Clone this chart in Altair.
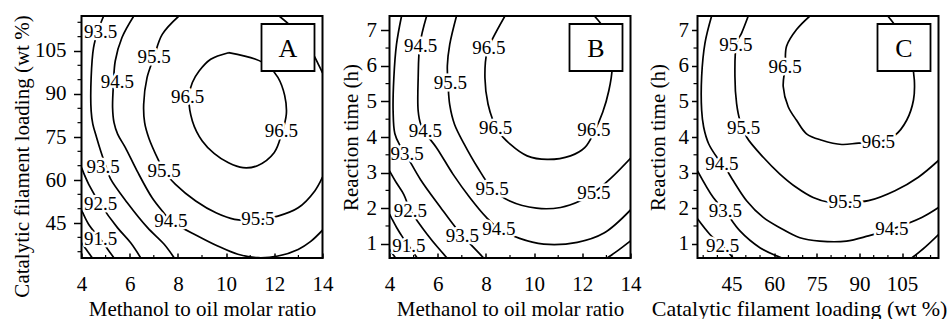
import altair as alt
import pandas as pd

FONT = "Liberation Serif"

# ---------------- Panel A : methanol/oil ratio vs catalytic filament loading -------------
A_905 = [(4.0, 38.1), (4.45, 32.8)]
A_915 = [(4.0, 49.6), (4.3, 44.5), (4.79, 39.3), (5.05, 36.3), (5.35, 32.8)]
A_925 = [(4.0, 64.3), (4.3, 58.5), (4.79, 51.5), (5.49, 43.4), (6.04, 38.1), (6.46, 32.8)]
A_935 = [(4.92, 117.2), (4.68, 112.0), (4.5, 106.2), (4.4, 95.7), (4.4, 84.1), (4.47, 79.5),
         (4.62, 75.0), (4.8, 70.0), (5.0, 65.0), (5.2, 60.5), (5.9, 52.1), (6.74, 43.4),
         (7.43, 37.6), (7.85, 32.8)]
A_945 = [(6.17, 117.2), (5.68, 109.7), (5.40, 101.5), (5.33, 94.0), (5.29, 85.2), (5.35, 80.0),
         (5.5, 76.0), (5.82, 71.3), (6.31, 63.1), (6.93, 53.8), (7.42, 48.5), (7.71, 45.7),
         (8.82, 40.5), (9.65, 37.0), (10.49, 34.1), (11.32, 32.9), (12.15, 33.5), (12.99, 35.8),
         (13.5, 38.5), (14.0, 42.5)]
A_955 = [(8.04, 117.2), (7.35, 110.8), (7.0, 102.7), (6.72, 95.7), (6.58, 86.4), (6.62, 80.0),
         (6.8, 74.5), (7.21, 66.6), (7.42, 63.1), (7.9, 58.5), (8.74, 52.7), (9.6, 48.5),
         (10.35, 46.3), (11.32, 46.1), (12.15, 47.4), (12.99, 50.3), (13.68, 56.2), (14.0, 61.0)]
A_955b = [(12.2, 117.2), (12.9, 112.0), (13.5, 105.5), (13.85, 100.0), (14.0, 97.4)]
A_965 = [(10.1, 104.4), (11.2, 102.2), (11.75, 99.8), (12.15, 95.8), (12.43, 89.5), (12.5, 83.0),
         (12.3, 76.0), (12.0, 69.6), (11.3, 65.0), (10.7, 64.3), (10.1, 66.0), (9.5, 69.3),
         (9.01, 73.6), (8.6, 80.6), (8.46, 89.3), (8.6, 94.0), (8.88, 98.0), (9.36, 102.1),
         (10.1, 104.4)]
A_lab_x = [4.79, 5.49, 7.01, 8.40, 12.29, 4.9, 7.43, 4.79, 7.71, 11.32, 4.79]
A_lab_y = [111.5, 94.1, 102.8, 88.8, 77.2, 64.5, 63.3, 51.5, 45.7, 46.4, 39.3]
A_lab_t = ["93.5", "94.5", "95.5", "96.5", "96.5", "93.5", "95.5", "92.5", "94.5", "95.5", "91.5"]
A_xticks = [4, 6, 8, 10, 12, 14]
A_xminor = [5, 7, 9, 11, 13]
A_yticks = [45, 60, 75, 90, 105]
A_yminor = [35, 40, 50, 55, 65, 70, 80, 85, 95, 100, 110, 115]

# ---------------- Panel B : methanol/oil ratio vs reaction time -------------
B_905 = [(4.0, 0.85), (4.25, 0.6)]
B_915 = [(4.0, 1.83), (4.3, 1.45), (4.55, 1.18), (4.8, 0.94), (5.15, 0.6)]
B_925 = [(4.0, 3.05), (4.3, 2.7), (4.59, 2.39), (4.87, 1.93), (5.2, 1.6), (5.56, 1.27), (6.0, 0.9), (6.39, 0.6)]
B_935 = [(4.5, 7.4), (4.29, 6.6), (4.18, 5.66), (4.15, 4.73), (4.22, 4.1), (4.42, 3.78), (4.73, 3.45),
         (5.29, 2.8), (6.12, 2.02), (6.81, 1.4), (7.3, 1.03), (7.91, 0.6)]
B_935b = [(13.03, 0.6), (13.5, 0.82), (14.0, 1.08)]
B_945 = [(5.54, 7.4), (5.26, 6.6), (5.19, 5.66), (5.19, 4.73), (5.3, 4.35), (5.5, 4.1), (5.95, 3.7),
         (6.64, 2.95), (7.33, 2.30), (8.02, 1.74), (8.51, 1.44), (9.4, 1.15), (10.4, 0.99),
         (11.79, 1.04), (12.9, 1.3), (14.0, 1.95)]
B_955 = [(6.78, 7.4), (6.5, 6.6), (6.4, 6.0), (6.43, 5.48), (6.5, 4.9), (6.7, 4.35), (7.1, 3.8),
         (7.65, 3.15), (8.26, 2.55), (8.99, 2.2), (10.1, 2.0), (11.1, 2.02), (11.9, 2.2),
         (12.48, 2.44), (13.2, 2.85), (14.0, 3.4)]
B_965 = [(8.79, 7.4), (8.30, 6.79), (8.05, 6.4), (7.96, 5.66), (8.09, 4.92), (8.30, 4.45), (8.45, 4.22),
         (9.02, 3.79), (9.71, 3.47), (10.54, 3.37), (11.51, 3.47), (12.1, 3.7), (12.5, 4.15),
         (12.85, 4.7), (13.1, 5.3), (13.24, 5.94), (13.15, 6.6), (12.85, 7.1), (12.5, 7.4)]
B_lab_x = [5.29, 8.12, 6.53, 5.49, 8.40, 12.48, 4.73, 8.26, 12.48, 4.87, 8.54, 7.02, 4.80]
B_lab_y = [6.55, 6.50, 5.52, 4.17, 4.26, 4.21, 3.51, 2.53, 2.44, 1.93, 1.41, 1.22, 0.94]
B_lab_t = ["94.5", "96.5", "95.5", "94.5", "96.5", "96.5", "93.5", "95.5", "95.5", "92.5", "94.5", "93.5", "91.5"]
B_xticks = [4, 6, 8, 10, 12, 14]
B_xminor = [5, 7, 9, 11, 13]
B_yticks = [1, 2, 3, 4, 5, 6, 7]
B_yminor = [1.5, 2.5, 3.5, 4.5, 5.5, 6.5]

# ---------------- Panel C : catalytic filament loading vs reaction time -------------
C_925 = [(33.0, 1.7), (37.38, 1.26), (41.84, 0.93), (45.59, 0.6)]
C_935 = [(33.0, 3.05), (38.56, 2.30), (42.66, 1.92), (47.93, 1.36), (54.96, 0.89), (62.69, 0.6)]
C_935b = [(108.4, 0.6), (113.0, 0.9), (117.8, 1.26)]
C_945 = [(37.97, 7.4), (35.63, 6.64), (34.46, 5.70), (34.46, 4.75), (35.16, 4.28), (36.92, 3.81),
         (39.84, 3.43), (42.66, 3.15), (45.59, 2.77), (50.27, 2.21), (56.13, 1.74), (61.99, 1.45),
         (69.02, 1.17), (76.05, 1.075), (85.42, 1.075), (93.15, 1.22), (101.36, 1.41),
         (111.9, 1.74), (117.8, 2.02)]
C_955 = [(50.86, 7.4), (48.51, 6.92), (46.76, 6.64), (46.17, 5.70), (46.76, 4.94), (47.93, 4.47),
         (49.22, 4.24), (50.27, 4.0), (56.13, 3.43), (61.99, 2.96), (67.85, 2.58), (73.7, 2.30),
         (79.56, 2.16), (84.95, 2.16), (93.15, 2.21), (102.5, 2.49), (110.7, 2.87), (117.8, 3.34)]
C_965 = [(72.53, 7.4), (67.85, 7.02), (64.33, 6.55), (63.86, 5.98), (63.16, 5.42), (64.92, 4.85),
         (67.85, 4.47), (71.36, 4.09), (76.75, 3.91), (83.78, 3.79), (89.64, 3.83), (96.67, 3.86),
         (102.5, 4.05), (106.6, 4.47), (109.0, 5.04), (109.3, 5.60), (108.4, 6.08), (106.0, 6.64),
         (103.1, 7.07), (99.95, 7.4)]
C_lab_x = [46.52, 63.86, 49.22, 96.67, 41.6, 84.95, 42.77, 101.36, 41.84]
C_lab_y = [6.59, 5.98, 4.24, 3.86, 3.25, 2.16, 1.92, 1.41, 0.93]
C_lab_t = ["95.5", "96.5", "95.5", "96.5", "94.5", "95.5", "93.5", "94.5", "92.5"]
C_xticks = [45, 60, 75, 90, 105]
C_xminor = [35, 40, 50, 55, 65, 70, 80, 85, 95, 100, 110, 115]
C_yticks = [1, 2, 3, 4, 5, 6, 7]
C_yminor = [1.5, 2.5, 3.5, 4.5, 5.5, 6.5]

W, H = 241, 242
ONE = pd.DataFrame({"a": [0]})


def lines_df(named):
    rows = []
    for seg, pts in named:
        for i, (x, y) in enumerate(pts):
            rows.append({"seg": seg, "i": i, "x": x, "y": y})
    return pd.DataFrame(rows)


def panel(named, lab_x, lab_y, lab_t, xdom, ydom, xticks, xminor, yticks, yminor,
          xtitle, ytitle, letter, ytitle_x, ytitle_y, ytick, ypad, xtitle_x=None, xtitle_size=21):
    xs = alt.Scale(domain=xdom, nice=False, zero=False)
    ys = alt.Scale(domain=ydom, nice=False, zero=False)
    xkw = dict(values=xticks, title=xtitle, offset=-5, tickSize=5, labelPadding=32.5,
               labelBaseline="alphabetic", titleBaseline="alphabetic", titleY=62,
               domain=False, grid=False, labelFlush=False, labelOverlap=False,
               titleFontSize=xtitle_size)
    if xtitle_x is not None:
        xkw["titleX"] = xtitle_x
    xaxis = alt.Axis(**xkw)
    yaxis = alt.Axis(values=yticks, title=ytitle, tickSize=ytick, labelPadding=ypad,
                     titleX=ytitle_x, titleY=ytitle_y, titleBaseline="alphabetic",
                     domain=False, grid=False, labelFlush=False, labelOverlap=False)
    X = lambda f: alt.X(f, scale=xs, axis=xaxis)
    Y = lambda f: alt.Y(f, scale=ys, axis=yaxis)
    contour = alt.Chart(lines_df(named)).mark_line(
        color="black", strokeWidth=1.7, clip=True, interpolate="catmull-rom"
    ).encode(x=X("x:Q"), y=Y("y:Q"), detail="seg:N", order="i:Q")
    labdf = pd.DataFrame({"x": lab_x, "y": lab_y, "t": lab_t})
    halo = alt.Chart(labdf).mark_text(font=FONT, fontSize=19, color="white", stroke="white",
                                      strokeWidth=5, strokeJoin="round").encode(
        x=X("x:Q"), y=Y("y:Q"), text="t:N")
    txt = alt.Chart(labdf).mark_text(font=FONT, fontSize=19, color="black").encode(
        x=X("x:Q"), y=Y("y:Q"), text="t:N")
    xm = alt.Chart(pd.DataFrame({"x": xminor})).mark_rule(color="black", strokeWidth=1.2).encode(
        x=X("x:Q"), y=alt.value(H), y2=alt.value(H - 3))
    ym = alt.Chart(pd.DataFrame({"y": yminor})).mark_rule(color="black", strokeWidth=1.2).encode(
        y=Y("y:Q"), x=alt.value(0), x2=alt.value(-4))
    box = alt.Chart(ONE).mark_rect(fill="white", stroke="black", strokeWidth=1.8).encode(
        x=alt.value(180), x2=alt.value(233), y=alt.value(8), y2=alt.value(55))
    let = alt.Chart(ONE).mark_text(font=FONT, fontSize=26, align="center", baseline="middle",
                                   color="black").encode(
        x=alt.value(206.5), y=alt.value(32.5), text=alt.value(letter))
    frame = alt.Chart(ONE).mark_rect(fillOpacity=0, stroke="black", strokeWidth=2).encode(
        x=alt.value(0), x2=alt.value(W), y=alt.value(0), y2=alt.value(H))
    return alt.layer(contour, xm, ym, halo, txt, box, let, frame).properties(width=W, height=H)


pA = panel([("90.5", A_905), ("91.5", A_915), ("92.5", A_925), ("93.5", A_935), ("94.5", A_945),
            ("95.5", A_955), ("95.5b", A_955b), ("96.5", A_965)],
           A_lab_x, A_lab_y, A_lab_t, [4, 14], [32.8, 117.2], A_xticks, A_xminor, A_yticks, A_yminor,
           "Methanol to oil molar ratio", "Catalytic filament loading (wt %)", "A",
           -53.5, 140, 8, 7.5)
pB = panel([("90.5", B_905), ("91.5", B_915), ("92.5", B_925), ("93.5", B_935), ("93.5b", B_935b),
            ("94.5", B_945), ("95.5", B_955), ("96.5", B_965)],
           B_lab_x, B_lab_y, B_lab_t, [4, 14], [0.6, 7.4], B_xticks, B_xminor, B_yticks, B_yminor,
           "Methanol to oil molar ratio", "Reaction time (h)", "B",
           -32, 121, 9, 4)
pC = panel([("92.5", C_925), ("93.5", C_935), ("93.5b", C_935b), ("94.5", C_945),
            ("95.5", C_955), ("96.5", C_965)],
           C_lab_x, C_lab_y, C_lab_t, [33, 117.8], [0.6, 7.4], C_xticks, C_xminor, C_yticks, C_yminor,
           "Catalytic filament loading (wt %)", "Reaction time (h)", "C",
           -33, 121, 6, 3, xtitle_x=101.6, xtitle_size=22)

chart = alt.hconcat(pA, pB, pC, spacing=67, bounds="flush").configure_view(
    stroke=None
).configure_axis(
    labelFont=FONT, titleFont=FONT, labelFontSize=21, titleFontSize=21,
    titleFontWeight="normal", labelColor="black", titleColor="black",
    tickColor="black", tickWidth=1.5
).properties(
    padding={"left": 10.5, "top": 14, "right": 0, "bottom": 0},
    background="white"
)

chart.save("out.html", embed_options={"renderer": "svg", "actions": False})
